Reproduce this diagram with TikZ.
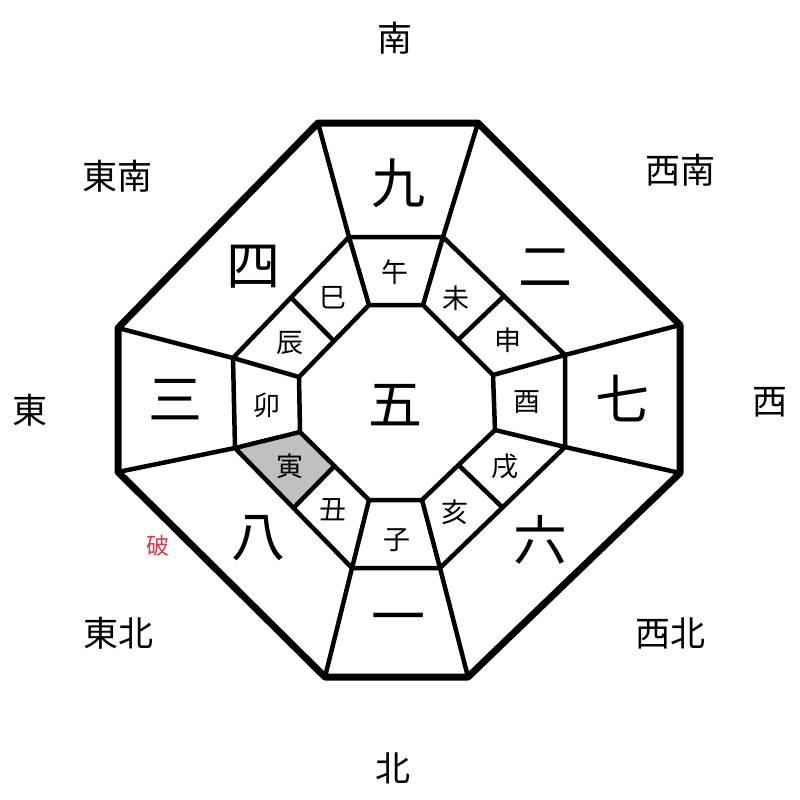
\documentclass[tikz,border=0pt]{standalone}
\usepackage{fontspec}
\usetikzlibrary{calc}
\setmainfont{Noto Sans CJK JP}
\definecolor{pored}{HTML}{D03A48}
\definecolor{cellgrey}{HTML}{C0C0C0}
\tikzset{
  outerline/.style={line width=7pt, line join=round},
  innerline/.style={line width=4.5pt, line join=round, line cap=round},
  dirlabel/.style={font=\fontsize{35}{35}\selectfont, inner sep=0pt},
  numlabel/.style={font=\fontsize{54}{54}\selectfont, inner sep=0pt},
  branchlabel/.style={font=\fontsize{27}{27}\selectfont, inner sep=0pt},
  polabel/.style={font=\fontsize{23}{23}\selectfont, inner sep=0pt, text=pored},
}
\begin{document}
\begin{tikzpicture}[x=1pt,y=-1pt]
\useasboundingbox (0,0) rectangle (800,800);
\fill[white] (0,0) rectangle (800,800);
% outer octagon
\coordinate (O1) at (318,123); \coordinate (O2) at (478,123);
\coordinate (O3) at (680,325); \coordinate (O4) at (680,473);
\coordinate (O5) at (468,677); \coordinate (O6) at (325,677);
\coordinate (O7) at (118,472); \coordinate (O8) at (118,328);
% middle octagon
\coordinate (M1) at (349,237); \coordinate (M2) at (443,237);
\coordinate (M3) at (565,355); \coordinate (M4) at (565,447);
\coordinate (M5) at (440,568); \coordinate (M6) at (352,568);
\coordinate (M7) at (235,448); \coordinate (M8) at (233,358);
% inner octagon
\coordinate (I1) at (369,305); \coordinate (I2) at (423,305);
\coordinate (I3) at (493,375); \coordinate (I4) at (495,430);
\coordinate (I5) at (422,500); \coordinate (I6) at (369,500);
\coordinate (I7) at (300,432); \coordinate (I8) at (299,377);
% midpoints on diagonal edges
\coordinate (IA) at ($(I2)!0.5!(I3)$); \coordinate (MA) at ($(M2)!0.5!(M3)$);
\coordinate (IB) at ($(I4)!0.5!(I5)$); \coordinate (MB) at ($(M4)!0.5!(M5)$);
\coordinate (IC) at ($(I6)!0.5!(I7)$); \coordinate (MC) at ($(M6)!0.5!(M7)$);
\coordinate (ID) at ($(I8)!0.5!(I1)$); \coordinate (MD) at ($(M8)!0.5!(M1)$);
% grey cell
\fill[cellgrey] (M7) -- (I7) -- (IC) -- (MC) -- cycle;
% inner lines
\draw[innerline] (I1) -- (I2) -- (I3) -- (I4) -- (I5) -- (I6) -- (I7) -- (I8) -- cycle;
\draw[innerline] (M1) -- (M2) -- (M3) -- (M4) -- (M5) -- (M6) -- (M7) -- (M8) -- cycle;
\foreach \k in {1,...,8} { \draw[innerline] (I\k) -- (M\k) -- (O\k); }
\draw[innerline] (IA) -- (MA);
\draw[innerline] (IB) -- (MB);
\draw[innerline] (IC) -- (MC);
\draw[innerline] (ID) -- (MD);
% outer
\draw[outerline] (O1) -- (O2) -- (O3) -- (O4) -- (O5) -- (O6) -- (O7) -- (O8) -- cycle;
% direction labels
\node[dirlabel] (s) at (395,38) {南};
\node[dirlabel] (se) at (117,176) {東南};
\node[dirlabel] (sw) at (680,170) {西南};
\node[dirlabel] (e) at (30,410) {東};
\node[dirlabel] (w) at (770,402) {西};
\node[dirlabel] (ne) at (118,633) {東北};
\node[dirlabel] (nw) at (670,633) {西北};
\node[dirlabel] (n) at (393,768) {北};
\node[polabel] (po) at (158,546) {破};
% numbers
\node[numlabel] (n9) at (398,183) {九};
\node[numlabel] (n4) at (253,267) {四};
\node[numlabel] (n2) at (545,268) {二};
\node[numlabel] (n3) at (175,400) {三};
\node[numlabel] (n5) at (395,405) {五};
\node[numlabel] (n7) at (622,398) {七};
\node[numlabel] (n8) at (258,538) {八};
\node[numlabel] (n6) at (540,540) {六};
\node[numlabel] (n1) at (398,625) {一};
% branches
\node[branchlabel] (b7) at (395,272) {午};
\node[branchlabel] (b8) at (456,298) {未};
\node[branchlabel] (b6) at (333,298) {巳};
\node[branchlabel] (b9) at (508,340) {申};
\node[branchlabel] (b5) at (290,343) {辰};
\node[branchlabel] (b4) at (267,405) {卯};
\node[branchlabel] (b10) at (527,402) {酉};
\node[branchlabel] (b3) at (290,466) {寅};
\node[branchlabel] (b11) at (505,466) {戌};
\node[branchlabel] (b2) at (333,510) {丑};
\node[branchlabel] (b12) at (455,512) {亥};
\node[branchlabel] (b1) at (397,540) {子};
\end{tikzpicture}
\end{document}
